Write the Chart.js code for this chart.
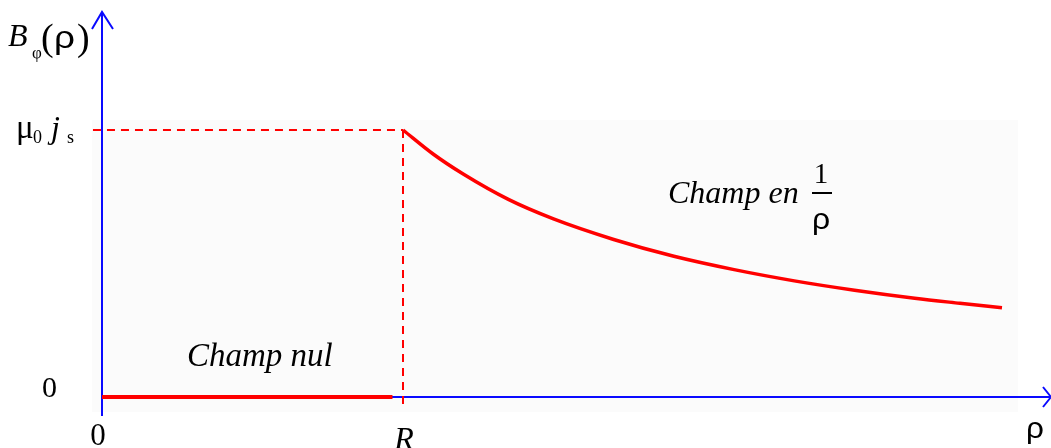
<!DOCTYPE html>
<html>
<head>
<meta charset="utf-8">
<script src="https://cdn.jsdelivr.net/npm/chart.js@4"></script>
<style>
  html, body { margin: 0; padding: 0; background: #fff; }
  #wrap { width: 1051px; height: 448px; }
</style>
</head>
<body>
<div id="wrap"><canvas id="fieldChart" width="1051" height="448"></canvas></div>
<script>
// rho in units of R, field in units of mu0*js
const insideRho = [0, 0.965];
const insideField = [0, 0];
const outsideRho = [1.0, 1.1, 1.2, 1.35, 1.5, 1.7, 1.9, 2.1, 2.3, 2.5, 2.7, 2.85, 2.99];
const outsideField = [1.0, 0.91, 0.835, 0.74, 0.667, 0.59, 0.527, 0.477, 0.435, 0.4, 0.37, 0.351, 0.334];
const xTickValues = [0, 1];
const xTickLabels = ['0', 'R'];
const yTickValues = [0, 1];

const BLUE = '#0a0aff';
const RED = '#ff0000';
const SERIF = '"Liberation Serif", "DejaVu Serif", serif';
const SANS = '"Liberation Sans", Arial, sans-serif';

const toPoints = (xs, ys) => xs.map((x, i) => ({ x: x, y: ys[i] }));

// sans rho, optionally stretched sideways
function drawRho(ctx, x, y, size, align, stretch) {
    ctx.save();
    ctx.font = size + 'px ' + SANS;
    ctx.textAlign = align;
    ctx.translate(x, y);
    ctx.scale(stretch || 1, 1);
    ctx.fillText('ρ', 0, 0);
    ctx.restore();
}

// axes, arrows and all the hand-set labels
const axesPlugin = {
    id: 'axesPlugin',
    beforeDatasetsDraw(chart) {
        const ctx = chart.ctx;
        const xs = chart.scales.x;
        const ys = chart.scales.y;
        const x0 = xs.getPixelForValue(0);
        const y0 = ys.getPixelForValue(0);
        ctx.save();
        // faint plot panel
        ctx.fillStyle = '#fbfbfb';
        ctx.fillRect(92, 120, 926, 292);

        ctx.strokeStyle = BLUE;
        ctx.lineWidth = 2;
        ctx.beginPath();
        ctx.moveTo(x0, 416);
        ctx.lineTo(x0, 12);
        ctx.moveTo(x0 - 10, 29);
        ctx.lineTo(x0, 12);
        ctx.lineTo(x0 + 11, 29);
        ctx.moveTo(x0, y0);
        ctx.lineTo(1050, y0);
        ctx.moveTo(1043, y0 - 10);
        ctx.lineTo(1051, y0);
        ctx.lineTo(1043, y0 + 10);
        ctx.stroke();
        ctx.restore();
    },
    afterDraw(chart) {
        const ctx = chart.ctx;
        const xs = chart.scales.x;
        const ys = chart.scales.y;
        ctx.save();
        ctx.fillStyle = '#000';
        ctx.textBaseline = 'alphabetic';

        // x tick labels
        ctx.textAlign = 'center';
        ctx.font = '31px ' + SERIF;
        ctx.fillText(xTickLabels[0], xs.getPixelForValue(xTickValues[0]) - 4, 445);
        ctx.font = 'italic 32px ' + SERIF;
        ctx.fillText(xTickLabels[1], xs.getPixelForValue(xTickValues[1]) + 1, 449);
        drawRho(ctx, 1035, 438, 30, 'center', 1.05);

        // y tick labels
        ctx.textAlign = 'left';
        ctx.font = '30px ' + SERIF;
        ctx.fillText('0', 42, ys.getPixelForValue(yTickValues[0]));
        const yTop = ys.getPixelForValue(yTickValues[1]);
        ctx.font = '33px ' + SERIF;
        ctx.fillText('μ', 16, yTop + 8);
        ctx.font = '18px ' + SERIF;
        ctx.fillText('0', 33, yTop + 13);
        ctx.font = 'italic 32px ' + SERIF;
        ctx.fillText('j', 51, yTop + 8);
        ctx.font = '18px ' + SERIF;
        ctx.fillText('s', 67, yTop + 13);

        // axis title B_phi(rho)
        ctx.font = 'italic 32px ' + SERIF;
        ctx.fillText('B', 8, 46);
        ctx.font = '17px ' + SERIF;
        ctx.fillText('φ', 32, 58);
        ctx.font = '38px ' + SERIF;
        ctx.fillText('(', 41, 50);
        drawRho(ctx, 54, 48, 32, 'left', 1.15);
        ctx.font = '38px ' + SERIF;
        ctx.fillText(')', 77, 50);

        // annotations
        ctx.font = 'italic 33px ' + SERIF;
        ctx.fillText('Champ nul', 187, 366);
        ctx.font = 'italic 32px ' + SERIF;
        ctx.fillText('Champ en', 668, 203);
        ctx.font = '29px ' + SERIF;
        ctx.textAlign = 'center';
        ctx.fillText('1', 821, 183);
        ctx.fillRect(812, 192, 20, 2);
        drawRho(ctx, 821, 229, 29, 'center', 1.1);
        ctx.restore();
    }
};

new Chart(document.getElementById('fieldChart'), {
    type: 'scatter',
    data: {
        datasets: [
            {
                // guide at mu0*js
                data: [{ x: -0.03, y: 1 }, { x: 1, y: 1 }],
                showLine: true,
                borderColor: RED,
                borderWidth: 2,
                borderDash: [8, 6],
                pointRadius: 0
            },
            {
                // guide at rho = R
                data: [{ x: 1, y: 1 }, { x: 1, y: -0.03 }],
                showLine: true,
                borderColor: RED,
                borderWidth: 2,
                borderDash: [8, 6],
                pointRadius: 0
            },
            {
                data: toPoints(insideRho, insideField),
                showLine: true,
                borderColor: RED,
                borderWidth: 4,
                pointRadius: 0
            },
            {
                data: toPoints(outsideRho, outsideField),
                showLine: true,
                borderColor: RED,
                borderWidth: 3.5,
                cubicInterpolationMode: 'monotone',
                pointRadius: 0
            }
        ]
    },
    options: {
        responsive: false,
        animation: false,
        layout: { padding: 0 },
        plugins: {
            legend: { display: false },
            tooltip: { enabled: false }
        },
        scales: {
            x: { type: 'linear', display: false, min: -102 / 301, max: 949 / 301 },
            y: { type: 'linear', display: false, min: -51 / 267, max: 397 / 267 }
        }
    },
    plugins: [axesPlugin]
});
</script>
</body>
</html>
